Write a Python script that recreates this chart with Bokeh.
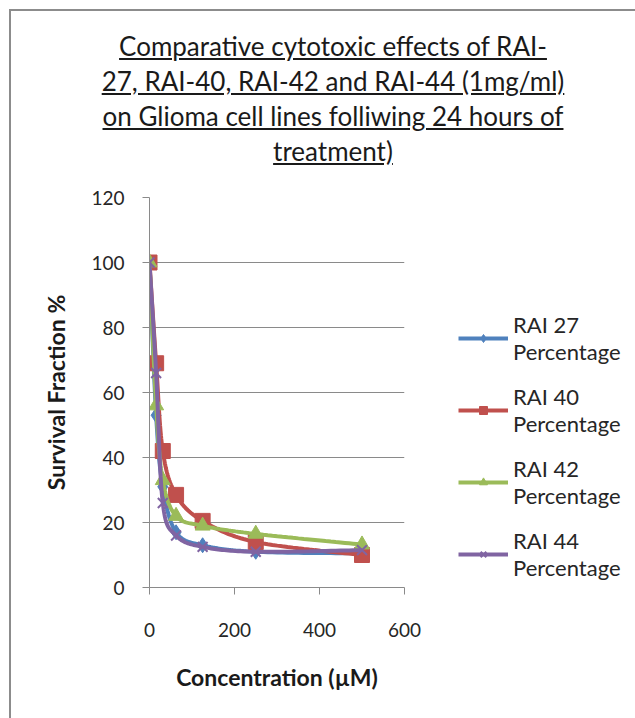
import numpy as np
from bokeh.plotting import figure
from bokeh.models import Div, Legend, LegendItem, Range1d, FixedTicker
from bokeh.layouts import column
from bokeh.embed import file_html
from bokeh.resources import INLINE

# ---- data ----
concentration = [0, 15.6, 31.25, 62.5, 125, 250, 500]
rai27 = [100, 53, 31, 17, 13, 11, 10.5]
rai40 = [100, 69, 42, 28.5, 20.5, 14, 10]
rai42 = [100, 56, 33, 22, 19, 16.5, 13.2]
rai44 = [100, 66, 26, 16, 12.5, 11, 11.5]
series_names = ["RAI 27", "RAI 40", "RAI 42", "RAI 44"]
x_ticks = [0, 200, 400, 600]
y_ticks = [0, 20, 40, 60, 80, 100, 120]
title_lines = ["Comparative cytotoxic effects of RAI-",
               "27, RAI-40, RAI-42 and RAI-44 (1mg/ml)",
               "on Glioma cell lines folliwing 24 hours of",
               "treatment)"]

colors = ["#4F81BD", "#C0504D", "#9BBB59", "#8064A2"]
markers = ["diamond", "square", "triangle", "x"]
msizes = [15, 15, 15, 14]

FW, FH = 255, 390
XMAX, YMAX = 600, 120


def smooth(xs, ys, n=24):
    sx, sy = FW / XMAX, FH / YMAX
    P = np.column_stack([np.asarray(xs, float) * sx, np.asarray(ys, float) * sy])
    outx, outy = [], []
    m = len(P)
    for i in range(m - 1):
        p0 = P[i - 1] if i > 0 else P[i]
        p1, p2 = P[i], P[i + 1]
        p3 = P[i + 2] if i + 2 < m else P[i + 1]
        c1 = p1 + (p2 - p0) / 6.0
        c2 = p2 - (p3 - p1) / 6.0
        t = np.linspace(0, 1, n, endpoint=(i == m - 2))[:, None]
        b = ((1 - t) ** 3) * p1 + 3 * ((1 - t) ** 2) * t * c1 + 3 * (1 - t) * t ** 2 * c2 + t ** 3 * p2
        outx.extend(b[:, 0] / sx)
        outy.extend(b[:, 1] / sy)
    return outx, outy


FONT = "Lato"

p = figure(frame_width=FW, frame_height=FH,
           x_range=Range1d(0, XMAX), y_range=Range1d(0, YMAX),
           output_backend="svg", toolbar_location=None,
           min_border_left=138, min_border_top=15, min_border_bottom=140,
           min_border_right=0)
p.outline_line_color = None
p.background_fill_color = "white"
p.border_fill_color = "white"

p.xgrid.grid_line_color = None
p.ygrid.grid_line_color = "#8a8a8a"
p.ygrid.grid_line_width = 1
p.ygrid.ticker = FixedTicker(ticks=y_ticks)

for ax in (p.xaxis[0], p.yaxis[0]):
    ax.axis_line_color = "#8a8a8a"
    ax.major_tick_line_color = "#8a8a8a"
    ax.minor_tick_line_color = None
    ax.major_tick_in = 0
    ax.major_tick_out = 7
    ax.major_label_text_font = FONT
    ax.major_label_text_font_size = "19px"
    ax.major_label_text_color = "#262626"
    ax.axis_label_text_font = FONT
    ax.axis_label_text_font_style = "bold"
    ax.axis_label_text_font_size = "23px"
    ax.axis_label_text_color = "#1a1a1a"

p.xaxis.ticker = FixedTicker(ticks=x_ticks)
p.yaxis.ticker = FixedTicker(ticks=y_ticks)
p.xaxis.axis_label = "Concentration (µM)"
p.yaxis.axis_label = "Survival Fraction %"
p.xaxis.major_label_standoff = 28
p.xaxis.axis_label_standoff = 23
p.yaxis.major_label_standoff = 18
p.yaxis.axis_label_standoff = 18

items = []
for ys, c, mk, ms, nm in zip([rai27, rai40, rai42, rai44], colors, markers, msizes, series_names):
    sx_, sy_ = smooth(concentration, ys)
    lr = p.line(sx_, sy_, line_color=c, line_width=4)
    if mk == "x":
        sr = p.scatter(concentration, ys, marker=mk, size=ms, line_color=c, line_width=2)
    else:
        sr = p.scatter(concentration, ys, marker=mk, size=ms, fill_color=c, line_color=c)
    items.append(LegendItem(label=nm + "\nPercentage", renderers=[lr, sr]))

legend = Legend(items=items, location=(54, 6))
legend.border_line_color = None
legend.background_fill_color = None
legend.glyph_width = 50
legend.glyph_height = 20
legend.label_standoff = 5
legend.label_text_font = FONT
legend.label_text_font_size = "22px"
legend.label_text_color = "#262626"
legend.spacing = 18
legend.padding = 0
legend.margin = 0
p.add_layout(legend, "right")

title_html = ('<div style="font-family: Lato; font-size: 26px; line-height: 35px; '
              'text-align: center; color: #1a1a1a; text-decoration: underline; '
              'white-space: nowrap; padding-top: 13px; width: 600px; margin-left: 17px;">'
              + "<br>".join(title_lines) + '</div>')
div = Div(text=title_html, width=620, height=161)

root = column(div, p, margin=(9, 0, 0, 9),
              styles={"border-top": "2px solid #8c8c8c", "border-left": "2px solid #8c8c8c"})

open("out.html", "w").write(file_html(root, INLINE))
